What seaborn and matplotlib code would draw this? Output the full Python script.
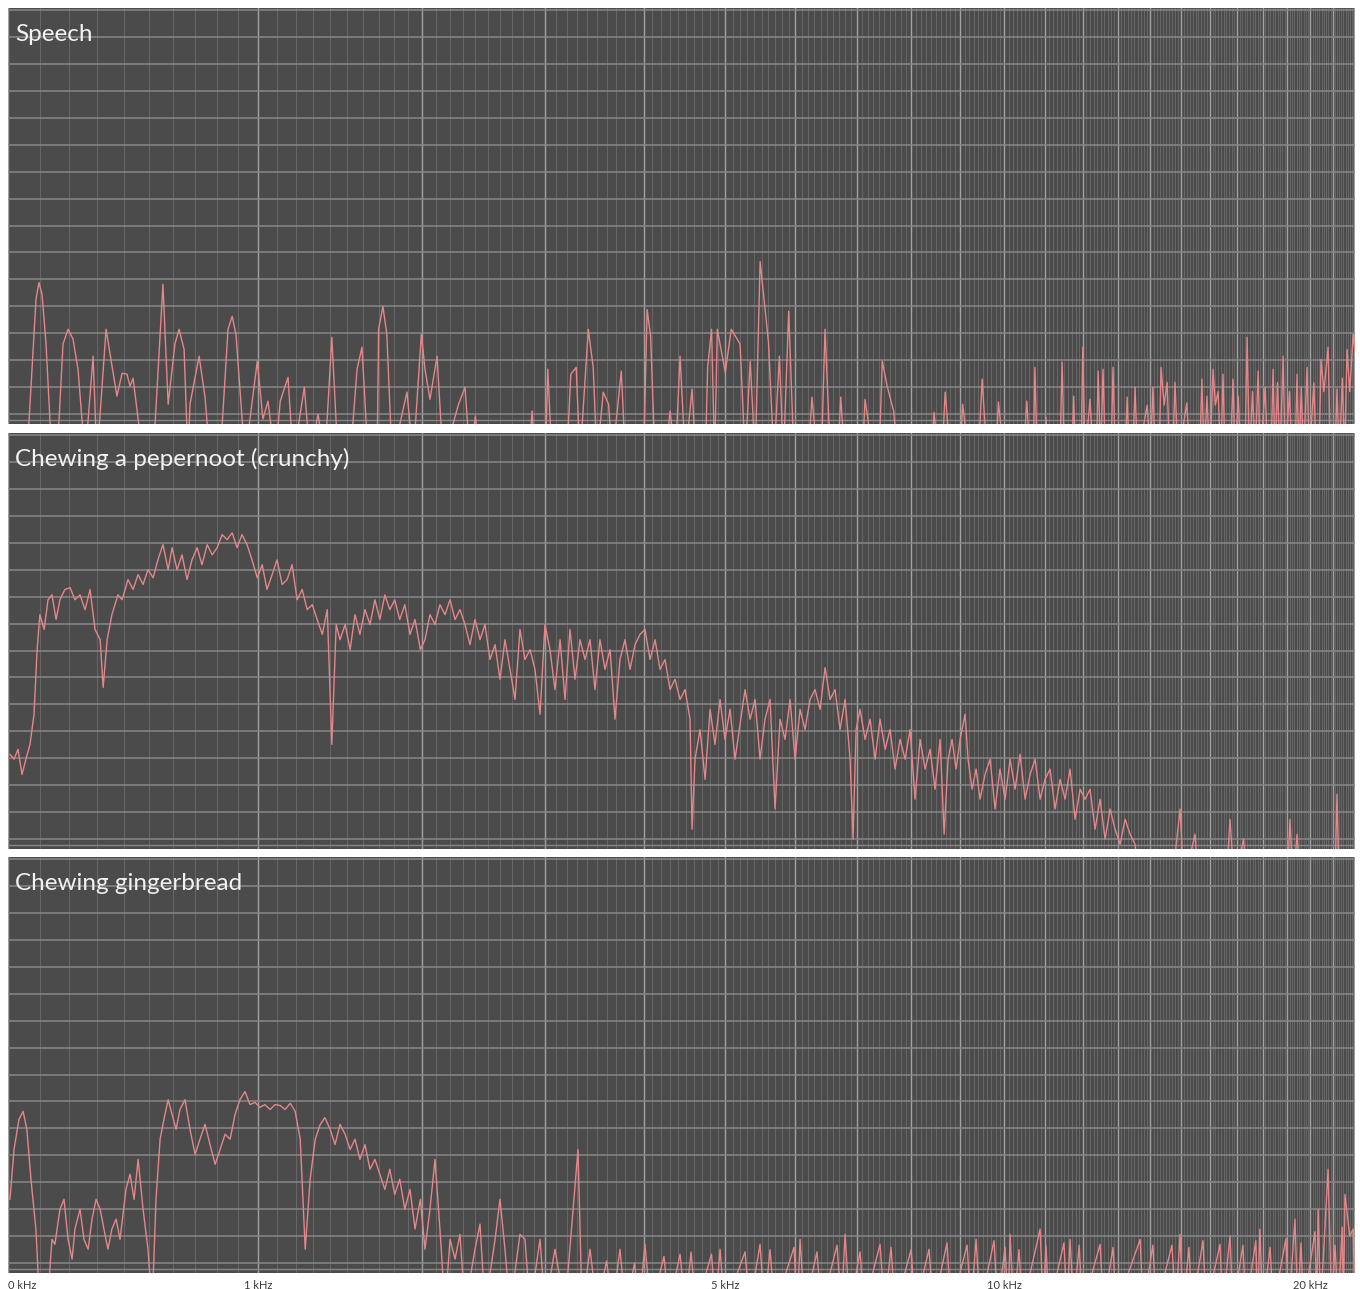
import numpy as np
import pandas as pd
import matplotlib
matplotlib.use("Agg")
import matplotlib.pyplot as plt
import seaborn as sns
from matplotlib.ticker import MultipleLocator, FixedLocator, FuncFormatter

F = -100.0  # below the display floor

PANEL_TITLES = ["Speech", "Chewing a pepernoot (crunchy)", "Chewing gingerbread"]
TICK_KHZ = [0, 1, 5, 10, 20]
TICK_LABELS = ["0 kHz", "1 kHz", "5 kHz", "10 kHz", "20 kHz"]

# (frequency in kHz, level in dB)
speech = [
    (0.006, F), (0.059, F), (0.0787, -76.2), (0.0884, -64.4), (0.098, -60.7), (0.108, -63.3),
    (0.1213, -74.4), (0.141, F), (0.158, F), (0.1785, -74.4), (0.196, -71.1), (0.2132, -73.3),
    (0.2308, -80.0), (0.256, F),
    (0.285, -77.1), (0.299, F), (0.333, -71.1), (0.374, -86.0), (0.394, -80.9), (0.413, -81.1),
    (0.425, -83.8), (0.437, -82.0), (0.477, F), (0.518, F), (0.559, -61.1), (0.581, -87.8),
    (0.610, -74.4), (0.628, -71.1), (0.650, -75.6), (0.667, F), (0.676, -87.8), (0.717, -77.1),
    (0.744, -86.2), (0.767, F),
    (0.814, F), (0.852, -71.1), (0.872, -68.2), (0.8905, -72.2), (0.935, F), (0.997, -78.2),
    (1.026, -91.1), (1.052, -87.1),
    (1.089, F), (1.117, -87.1), (1.159, -81.8), (1.187, F), (1.249, -84.0), (1.282, F),
    (1.327, -90.0), (1.367, F), (1.408, -72.9), (1.445, F), (1.519, F), (1.562, -80.0),
    (1.593, -75.1), (1.632, F), (1.690, F), (1.700, -71.1), (1.728, -66.0), (1.754, -72.2),
    (1.789, F), (1.891, -85.1),
    (1.934, F), (1.992, -72.2), (2.018, -80.0), (2.054, -86.7), (2.106, -77.1), (2.150, F),
    (2.268, -87.8), (2.318, -84.0), (2.357, F), (2.400, -90.4), (2.437, F), (2.850, F),
    (2.879, -89.3), (2.910, F), (3.000, F), (3.022, -80.0), (3.060, F), (3.200, F),
    (3.240, -81.1), (3.292, -79.6), (3.330, F), (3.412, -71.1), (3.462, -79.6), (3.500, F),
    (3.565, -85.1), (3.620, -87.8), (3.660, F), (3.755, -80.4), (3.800, F), (4.000, F),
    (4.040, -66.7), (4.080, -72.7), (4.130, F), (4.250, F), (4.306, -89.3), (4.370, F),
    (4.426, -77.1), (4.490, F), (4.573, -84.4), (4.620, F), (4.740, F), (4.770, -79.6),
    (4.820, -71.1), (4.860, F), (4.895, -71.1), (5.000, -80.7), (5.080, -71.1), (5.200, -74.4),
    (5.270, F), (5.340, -78.2), (5.410, F), (5.480, -56.0), (5.600, -74.0), (5.680, F),
    (5.760, -77.1), (5.820, F), (5.900, -67.1), (5.980, F), (6.200, F), (6.260, -86.2),
    (6.350, F), (6.410, F), (6.470, -71.1), (6.560, F), (6.680, F), (6.730, -86.2), (6.800, F),
    (7.100, F), (7.150, -86.7), (7.300, F), (7.400, F), (7.460, -78.2), (7.550, -83.8),
    (7.670, -89.3), (7.750, F), (8.400, F), (8.460, -89.6), (8.550, F), (8.620, F),
    (8.690, -85.1), (8.800, F), (9.000, F), (9.060, -87.8), (9.200, F), (9.400, F),
    (9.490, -82.2), (9.600, F), (9.800, F), (9.860, -87.3), (10.00, F), (10.45, F),
    (10.54, -87.1), (10.62, F), (10.70, F), (10.74, -79.6), (10.80, F), (10.98, F),
    (11.02, -90.7), (11.07, F), (11.38, F), (11.44, -78.4), (11.50, F), (11.70, F),
    (11.75, -86.0), (11.80, F), (11.95, F), (12.00, -75.1), (12.06, F), (12.20, -86.7),
    (12.30, F), (12.38, F), (12.43, -80.4), (12.50, F), (12.57, -80.0), (12.64, F),
    (12.80, F), (12.86, -79.6), (12.93, F), (13.22, F), (13.28, -86.2), (13.35, F),
    (13.45, F), (13.52, -84.0), (13.60, F), (13.90, -88.0), (14.00, F), (14.08, -84.0),
    (14.16, F), (14.28, F), (14.34, -79.6), (14.44, -88.0), (14.54, -82.9), (14.62, F),
    (14.72, F), (14.80, -82.9), (14.90, F), (15.20, -87.5), (15.30, F), (15.64, F),
    (15.72, -82.2), (15.80, F), (15.90, -86.0), (16.00, F), (16.12, -80.0), (16.20, -88.0),
    (16.30, -85.0), (16.40, F), (16.48, -81.1), (16.56, F), (16.75, F), (16.85, -82.2),
    (16.93, F), (17.05, -86.0), (17.15, F), (17.30, F), (17.39, -72.9), (17.48, F),
    (17.60, -85.0), (17.70, F), (17.82, -80.4), (17.90, F), (18.10, -84.0), (18.20, F),
    (18.33, F), (18.42, -80.0), (18.50, F), (18.60, -83.0), (18.70, F), (18.83, -77.1),
    (18.92, F), (19.10, -85.0), (19.20, F), (19.33, F), (19.42, -81.1), (19.50, F),
    (19.60, -84.0), (19.70, F), (19.85, -79.6), (19.95, F), (20.15, -83.0), (20.25, F),
    (20.38, F), (20.47, -77.8), (20.60, -85.0), (20.79, -75.1), (20.90, F), (21.10, F),
    (21.20, -84.4), (21.30, F), (21.45, -82.0), (21.55, F), (21.67, -75.6), (21.80, -85.0),
    (21.96, -72.2), (22.05, -76.0),
]

pepernoot = [
    (0.006, -71.1), (0.0185, -72.2), (0.031, -70.0), (0.0435, -75.6), (0.056, -72.2),
    (0.069, -68.9), (0.082, -62.2), (0.092, -47.8), (0.101, -40.0), (0.115, -43.3),
    (0.128, -36.7), (0.141, -35.6), (0.155, -41.1), (0.168, -36.7), (0.185, -34.4),
    (0.203, -34.0), (0.220, -36.7), (0.238, -35.6), (0.256, -38.9), (0.274, -34.4),
    (0.292, -43.3), (0.311, -45.6), (0.322, -56.2), (0.337, -45.6), (0.355, -40.0),
    (0.378, -35.6), (0.394, -36.7), (0.417, -32.2), (0.437, -34.4), (0.457, -31.1),
    (0.477, -33.3), (0.497, -30.0), (0.518, -31.8), (0.538, -27.8), (0.559, -24.4),
    (0.581, -30.0), (0.598, -25.1), (0.619, -30.0), (0.641, -26.7), (0.663, -32.2),
    (0.685, -27.8), (0.708, -25.1), (0.730, -28.9), (0.754, -24.4), (0.777, -26.7),
    (0.800, -25.1), (0.824, -22.2), (0.847, -23.3), (0.872, -21.8), (0.896, -25.1),
    (0.920, -22.2), (0.945, -24.4), (0.970, -27.8), (0.997, -31.8), (1.022, -28.9),
    (1.047, -34.4), (1.074, -31.1), (1.100, -27.8), (1.127, -33.3), (1.154, -32.2),
    (1.181, -28.9), (1.209, -36.7), (1.237, -34.4), (1.265, -38.9), (1.294, -37.8),
    (1.322, -41.1), (1.352, -44.4), (1.381, -38.9), (1.408, -68.9), (1.434, -42.2),
    (1.457, -45.6), (1.488, -42.2), (1.519, -47.8), (1.549, -40.0), (1.580, -44.4),
    (1.612, -38.9), (1.644, -42.2), (1.676, -36.7), (1.708, -41.1), (1.741, -35.6),
    (1.774, -38.9), (1.807, -36.7), (1.841, -41.1), (1.876, -37.8), (1.912, -44.4),
    (1.947, -41.1), (1.985, -47.8), (2.018, -45.6), (2.054, -40.0), (2.091, -42.2),
    (2.127, -37.8), (2.165, -40.0), (2.203, -36.7), (2.241, -41.1), (2.279, -38.9),
    (2.318, -42.2), (2.357, -46.7), (2.397, -41.1), (2.437, -45.6), (2.477, -42.2),
    (2.518, -50.0), (2.560, -46.7), (2.601, -54.4), (2.643, -45.6), (2.686, -52.2),
    (2.729, -58.9), (2.772, -43.3), (2.816, -50.0), (2.861, -47.8), (2.905, -52.2),
    (2.951, -62.2), (2.996, -42.2), (3.042, -47.8), (3.089, -56.7), (3.137, -45.6),
    (3.184, -58.9), (3.232, -43.3), (3.281, -54.4), (3.330, -45.6), (3.380, -50.0),
    (3.430, -45.6), (3.480, -56.7), (3.531, -45.6), (3.583, -52.2), (3.636, -47.8),
    (3.688, -63.3), (3.741, -50.0), (3.795, -45.6), (3.850, -52.2), (3.905, -46.7),
    (3.960, -44.4), (4.016, -43.3), (4.073, -50.0), (4.131, -45.6), (4.188, -52.2),
    (4.247, -50.0), (4.306, -56.7), (4.365, -54.4), (4.426, -58.9), (4.487, -56.7),
    (4.548, -63.3), (4.573, -87.8), (4.610, -72.2), (4.673, -65.6), (4.737, -76.7),
    (4.801, -61.1), (4.865, -68.9), (4.931, -58.9), (4.996, -67.8), (5.064, -61.1),
    (5.131, -72.2), (5.199, -64.4), (5.268, -56.7), (5.338, -63.3), (5.408, -58.9),
    (5.479, -72.2), (5.550, -63.3), (5.623, -58.9), (5.696, -83.3), (5.770, -63.3),
    (5.845, -67.8), (5.920, -58.9), (5.997, -72.2), (6.074, -61.1), (6.151, -65.6),
    (6.230, -58.9), (6.309, -56.7), (6.390, -61.1), (6.471, -51.8), (6.553, -58.9),
    (6.635, -56.7), (6.719, -65.6), (6.804, -58.9), (6.889, -72.2), (6.940, -90.0),
    (6.993, -65.6), (7.062, -61.1), (7.150, -67.8), (7.239, -63.3), (7.329, -72.2),
    (7.419, -63.3), (7.512, -70.0), (7.604, -65.6), (7.697, -74.4), (7.792, -67.8),
    (7.887, -72.2), (7.984, -65.6), (8.081, -81.1), (8.180, -67.8), (8.279, -74.4),
    (8.380, -70.0), (8.481, -78.9), (8.584, -67.8), (8.667, -88.9), (8.750, -72.2),
    (8.834, -67.8), (8.919, -74.4), (9.005, -67.8), (9.112, -62.2), (9.177, -72.2),
    (9.265, -78.9), (9.354, -74.4), (9.442, -81.1), (9.555, -75.6), (9.669, -72.2),
    (9.783, -83.3), (9.897, -74.4), (10.017, -81.1), (10.135, -72.2), (10.254, -78.9),
    (10.375, -71.1), (10.498, -81.1), (10.621, -75.6), (10.745, -72.2), (10.871, -81.1),
    (10.997, -76.7), (11.126, -74.4), (11.256, -83.3), (11.387, -76.7), (11.519, -81.1),
    (11.653, -74.4), (11.789, -85.6), (11.925, -78.9), (12.063, -81.1), (12.202, -78.9),
    (12.342, -87.8), (12.486, -81.1), (12.629, -90.0), (12.774, -83.3), (12.920, -87.8),
    (13.069, -91.1), (13.219, -85.6), (13.370, -88.9), (13.52, -91.1), (13.68, F),
    (14.70, F), (14.97, -83.3), (15.10, F), (15.48, -88.9), (15.60, F), (16.60, F),
    (16.74, -85.6), (16.90, F), (17.25, -90.0), (17.40, F), (19.00, F), (19.12, -85.6),
    (19.25, F), (19.42, -88.9), (19.55, F), (21.10, F), (21.20, -80.0), (21.30, F),
    (22.05, F),
]

gingerbread = [
    (0.006, -75.8), (0.0185, -64.7), (0.034, -58.0), (0.047, -56.2), (0.059, -60.2),
    (0.072, -71.3), (0.088, -82.4), (0.101, F), (0.125, F), (0.141, -84.7), (0.151, -85.8),
    (0.168, -78.0), (0.182, -75.8), (0.196, -84.7), (0.210, -89.1), (0.220, -82.4),
    (0.238, -78.0), (0.252, -84.7), (0.267, -86.9), (0.281, -80.2), (0.296, -75.8),
    (0.311, -78.0), (0.325, -82.4), (0.340, -86.9), (0.355, -82.4), (0.371, -80.2),
    (0.386, -84.7), (0.409, -73.6), (0.425, -70.2), (0.441, -75.8), (0.457, -66.9),
    (0.477, -78.0), (0.497, -86.9), (0.514, F), (0.530, -75.8), (0.547, -62.4),
    (0.563, -58.0), (0.581, -53.6), (0.598, -56.9), (0.615, -60.2), (0.632, -55.8),
    (0.654, -53.6), (0.676, -60.2), (0.699, -65.8), (0.721, -62.4), (0.744, -59.1),
    (0.767, -63.6), (0.791, -68.0), (0.814, -64.7), (0.838, -61.3), (0.862, -62.4),
    (0.886, -56.9), (0.910, -53.6), (0.935, -51.8), (0.960, -54.7), (0.985, -54.2),
    (1.011, -55.3), (1.036, -54.7), (1.063, -55.8), (1.089, -54.7), (1.117, -54.9),
    (1.143, -55.8), (1.171, -54.4), (1.198, -56.2), (1.226, -62.4), (1.254, -86.9),
    (1.282, -71.3), (1.311, -62.4), (1.340, -59.1), (1.367, -57.6), (1.398, -60.2),
    (1.427, -63.6), (1.457, -59.1), (1.488, -61.3), (1.519, -64.7), (1.549, -62.4),
    (1.580, -66.9), (1.612, -63.6), (1.644, -69.1), (1.676, -66.9), (1.708, -70.2),
    (1.741, -73.6), (1.774, -69.1), (1.807, -74.7), (1.841, -71.3), (1.876, -78.0),
    (1.912, -73.6), (1.947, -82.4), (1.985, -75.8), (2.018, -86.9), (2.054, -78.0),
    (2.091, -66.9), (2.127, -82.4), (2.165, F), (2.203, -84.7), (2.241, -89.1),
    (2.279, -83.6), (2.318, F), (2.397, -86.9), (2.437, -81.3), (2.477, F), (2.560, -84.7),
    (2.601, -75.8), (2.643, -86.9), (2.686, F), (2.772, -83.6), (2.816, -84.7), (2.861, F),
    (2.951, -84.7), (2.996, F), (3.089, -86.9), (3.184, F), (3.310, -64.7), (3.350, F),
    (3.430, -86.9), (3.500, F), (3.600, -89.5), (3.660, F), (3.741, -86.9), (3.800, F),
    (3.900, -90.0), (3.950, F), (4.016, -85.8), (4.080, F), (4.235, -88.5), (4.290, F),
    (4.426, -88.0), (4.490, F), (4.561, -87.5), (4.620, F), (4.820, -88.0), (4.870, F),
    (4.931, -86.9), (4.990, F), (5.268, -87.5), (5.330, F), (5.479, -85.8), (5.540, F),
    (5.623, -87.0), (5.690, F), (5.980, -86.5), (6.030, F), (6.074, -84.7), (6.140, F),
    (6.340, -87.5), (6.410, F), (6.668, -86.0), (6.740, F), (6.804, -83.6), (6.880, F),
    (7.062, -87.5), (7.130, F), (7.419, -85.8), (7.500, F), (7.622, -86.5), (7.700, F),
    (8.004, -87.0), (8.080, F), (8.359, -86.9), (8.440, F), (8.728, -85.5), (8.810, F),
    (9.156, -86.0), (9.240, F), (9.354, -84.7), (9.440, F), (9.760, -85.0), (9.840, F),
    (10.017, -86.5), (10.090, F), (10.135, -83.6), (10.220, F), (10.350, -87.0),
    (10.430, F), (10.871, -82.4), (10.950, F), (11.020, -86.0), (11.100, F),
    (11.490, -85.5), (11.570, F), (11.653, -84.7), (11.750, F), (11.900, -86.0),
    (11.990, F), (12.486, -85.8), (12.580, F), (12.860, -86.5), (12.950, F),
    (13.680, -84.7), (13.770, F), (14.080, -86.0), (14.180, F), (14.700, -86.0),
    (14.820, F), (14.970, -83.6), (15.070, F), (15.270, -86.5), (15.380, F),
    (15.760, -85.0), (15.870, F), (16.370, -85.8), (16.470, F), (16.740, -84.0),
    (16.850, F), (17.230, -86.0), (17.340, F), (17.730, -85.0), (17.800, F),
    (17.890, -82.4), (18.000, F), (18.300, -86.5), (18.420, F), (18.950, -84.5),
    (19.070, F), (19.330, -80.2), (19.450, F), (19.590, -85.5), (19.700, F),
    (20.200, -83.0), (20.280, F), (20.340, -78.0), (20.450, F), (20.790, -69.1),
    (20.950, F), (21.110, -86.0), (21.250, F), (21.440, -82.0), (21.500, F),
    (21.570, -74.7), (21.800, -84.0), (21.960, -82.4), (22.05, F),
]

SERIES = [speech, pepernoot, gingerbread]

# warped frequency axis (log-like above ~1.5 kHz, near-linear below)
C_KHZ = 1.5
def fwd(f):
    f = np.asarray(f, dtype=float)
    return np.log1p(np.clip(f, 0, None) / C_KHZ)

def inv(u):
    return C_KHZ * np.expm1(np.asarray(u, dtype=float))

BG = "#4b4b4b"
LINE = "#e3878b"

sns.set_theme(style="dark")
plt.rcParams["font.family"] = ["Lato", "DejaVu Sans"]

W_PX, H_PX = 1360, 1289
fig = plt.figure(figsize=(W_PX / 100, H_PX / 100), dpi=100, facecolor="white")

left = 8 / W_PX
width = 1347 / W_PX
tops = [8, 433, 857]
panel_h = 416

for i, (title, pts) in enumerate(zip(PANEL_TITLES, SERIES)):
    ax = fig.add_axes([left, 1 - (tops[i] + panel_h) / H_PX, width, panel_h / H_PX])
    ax.set_facecolor(BG)
    df = pd.DataFrame(pts, columns=["khz", "db"])
    sns.lineplot(data=df, x="khz", y="db", ax=ax, color=LINE, linewidth=1.0,
                 estimator=None, sort=False, zorder=3)
    ax.set_xscale("function", functions=(fwd, inv))
    ax.set_xlim(0, 22.05)
    ax.set_ylim(-92.2, 0.44)

    ax.xaxis.set_major_locator(FixedLocator(list(range(0, 23))))
    ax.xaxis.set_minor_locator(MultipleLocator(0.1))
    ax.yaxis.set_major_locator(MultipleLocator(6))
    ax.yaxis.set_minor_locator(FixedLocator([-91.4]))
    ax.grid(which="minor", axis="x", color="#676767", linewidth=0.7)
    ax.grid(which="major", axis="x", color="#a2a2a2", linewidth=1.0)
    ax.grid(which="major", axis="y", color="#888888", linewidth=1.1)
    ax.grid(which="minor", axis="y", color="#888888", linewidth=1.0)
    ax.set_axisbelow(True)
    for s in ax.spines.values():
        s.set_visible(False)
    ax.set_xlabel("")
    ax.set_ylabel("")
    ax.tick_params(axis="both", which="both", length=0)
    ax.set_yticklabels([])

    if i < 2:
        ax.set_xticklabels([])
    else:
        lab = dict(zip(TICK_KHZ, TICK_LABELS))
        ax.xaxis.set_major_formatter(FuncFormatter(lambda v, p: lab.get(int(round(v)), "")))
        ax.tick_params(axis="x", which="major", labelsize=8, labelcolor="#3a3a3a", pad=5)
        ax.xaxis.get_major_ticks()[0].label1.set_horizontalalignment("left")

    ax.text(7 / 1347, 1 - 33 / panel_h, title, transform=ax.transAxes,
            ha="left", va="baseline", fontsize=17.5, color="#f2f2f2")

fig.savefig("out.png", dpi=100, facecolor="white")
